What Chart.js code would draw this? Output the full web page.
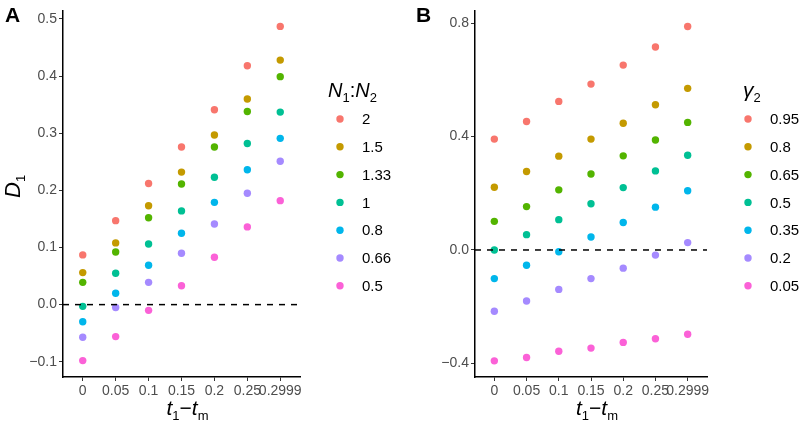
<!DOCTYPE html>
<html>
<head>
<meta charset="utf-8">
<script src="https://cdn.jsdelivr.net/npm/chart.js@4.4.1/dist/chart.umd.min.js"></script>
<style>
  body { margin: 0; background: #fff; }
  .panel { position: absolute; top: 0; width: 400px; height: 425px; }
</style>
</head>
<body>
<div class="panel" style="left:0"><canvas id="chartA" width="400" height="425"></canvas></div>
<div class="panel" style="left:400px"><canvas id="chartB" width="400" height="425"></canvas></div>
<script>
// x categories (t1 - tm)
const tLabels = ['0', '0.05', '0.1', '0.15', '0.2', '0.25', '0.2999'];
const hueColors = ['#F8766D', '#C49A00', '#53B400', '#00C094', '#00B6EB', '#A58AFF', '#FB61D7'];

// panel A: D1 by N1:N2
const ratioLabels = ['2', '1.5', '1.33', '1', '0.8', '0.66', '0.5'];
const ratio2 = [0.087, 0.147, 0.212, 0.276, 0.341, 0.418, 0.487];
const ratio15 = [0.056, 0.108, 0.173, 0.232, 0.297, 0.360, 0.428];
const ratio133 = [0.039, 0.092, 0.152, 0.211, 0.276, 0.338, 0.399];
const ratio1 = [-0.003, 0.055, 0.106, 0.164, 0.223, 0.282, 0.337];
const ratio08 = [-0.030, 0.020, 0.069, 0.125, 0.179, 0.236, 0.291];
const ratio066 = [-0.057, -0.005, 0.039, 0.090, 0.141, 0.195, 0.251];
const ratio05 = [-0.098, -0.056, -0.010, 0.033, 0.083, 0.136, 0.182];
const yTicksA = [-0.1, 0, 0.1, 0.2, 0.3, 0.4, 0.5];

// panel B: by gamma2
const gammaLabels = ['0.95', '0.8', '0.65', '0.5', '0.35', '0.2', '0.05'];
const gamma095 = [0.391, 0.453, 0.524, 0.585, 0.652, 0.716, 0.788];
const gamma08 = [0.221, 0.277, 0.331, 0.391, 0.447, 0.512, 0.570];
const gamma065 = [0.101, 0.153, 0.212, 0.268, 0.332, 0.388, 0.450];
const gamma05 = [0.000, 0.054, 0.107, 0.163, 0.220, 0.279, 0.334];
const gamma035 = [-0.101, -0.054, -0.006, 0.046, 0.097, 0.151, 0.209];
const gamma02 = [-0.216, -0.180, -0.139, -0.101, -0.064, -0.018, 0.026];
const gamma005 = [-0.391, -0.379, -0.357, -0.346, -0.326, -0.313, -0.297];
const yTicksB = [-0.4, 0, 0.4, 0.8];

const FONT = '"Liberation Sans", Arial, sans-serif';

function fmt(v, d) {
    let s = Math.abs(v).toFixed(d);
    return v < -1e-9 ? '\u2212' + s : s;
}

// draws text pieces [text, size, italic, dy] one after the other
function drawParts(ctx, parts, x, y, align) {
    let w = 0;
    parts.forEach(p => {
        ctx.font = (p[2] ? 'italic ' : '') + p[1] + 'px ' + FONT;
        w += ctx.measureText(p[0]).width;
    });
    let cx = align === 'center' ? x - w / 2 : x;
    ctx.textAlign = 'left';
    ctx.textBaseline = 'alphabetic';
    parts.forEach(p => {
        ctx.font = (p[2] ? 'italic ' : '') + p[1] + 'px ' + FONT;
        ctx.fillText(p[0], cx, y + (p[3] || 0));
        cx += ctx.measureText(p[0]).width;
    });
}

const decorPlugin = {
    id: 'decor',
    afterDatasetsDraw(chart, args, opts) {
        let ctx = chart.ctx;
        let area = chart.chartArea;
        let y0 = chart.scales.y.getPixelForValue(0);
        ctx.save();
        ctx.strokeStyle = '#000';
        ctx.lineWidth = 1.5;
        ctx.setLineDash([6, 6]);
        ctx.beginPath();
        ctx.moveTo(area.left, y0);
        ctx.lineTo(area.right, y0);
        ctx.stroke();
        ctx.restore();
    },
    afterDraw(chart, args, opts) {
        let ctx = chart.ctx;
        let area = chart.chartArea;
        ctx.save();
        ctx.fillStyle = '#000';

        // panel letter
        ctx.font = 'bold 21px ' + FONT;
        ctx.textAlign = 'left';
        ctx.fillText(opts.letter, opts.letterX, 22);

        // x axis title t1 - tm
        drawParts(ctx, [['t', 21, true], ['1', 13, false, 5], ['\u2212', 21, false], ['t', 21, true], ['m', 13, false, 5]],
            (area.left + area.right) / 2 + 6, 415, 'center');

        // y axis title
        if (opts.yTitle) {
            ctx.save();
            ctx.translate(20, 198);
            ctx.rotate(-Math.PI / 2);
            drawParts(ctx, opts.yTitle, 0, 0, 'left');
            ctx.restore();
        }

        // legend
        drawParts(ctx, opts.legendTitle, opts.legendTitleX, 97, 'left');
        chart.data.datasets.forEach((ds, i) => {
            let y = 119 + i * 27.8;
            ctx.fillStyle = ds.backgroundColor;
            ctx.beginPath();
            ctx.arc(opts.legendX, y, 3.7, 0, Math.PI * 2);
            ctx.fill();
            ctx.fillStyle = '#000';
            ctx.font = '15px ' + FONT;
            ctx.textBaseline = 'middle';
            ctx.fillText(ds.label, opts.legendX + 22, y + 1);
            ctx.textBaseline = 'alphabetic';
        });
        ctx.restore();
    }
};

function makePanel(id, labels, series, yMin, yMax, yTicks, yDigits, axisWidth, padRight, decor) {
    let ctx = document.getElementById(id).getContext('2d');
    return new Chart(ctx, {
        type: 'scatter',
        data: {
            datasets: series.map((vals, i) => ({
                label: labels[i],
                data: vals.map((v, j) => ({ x: j, y: v })),
                backgroundColor: hueColors[i],
                borderWidth: 0,
                pointRadius: 3.7,
                pointHoverRadius: 3.7
            }))
        },
        options: {
            responsive: false,
            animation: false,
            layout: { padding: { left: 0, right: padRight, top: 2, bottom: 0 } },
            plugins: {
                legend: { display: false },
                tooltip: { enabled: false },
                decor: decor
            },
            scales: {
                x: {
                    type: 'linear',
                    min: -0.6,
                    max: 6.6,
                    afterBuildTicks: s => { s.ticks = tLabels.map((t, i) => ({ value: i })); },
                    afterFit: s => { s.height = 48; },
                    ticks: {
                        callback: v => tLabels[v],
                        font: { family: FONT, size: 14 },
                        color: '#4D4D4D',
                        padding: 2,
                        maxRotation: 0,
                        autoSkip: false
                    },
                    grid: { drawOnChartArea: false, tickLength: 4, color: '#333', lineWidth: 1 },
                    border: { color: '#000', width: 1.5 }
                },
                y: {
                    min: yMin,
                    max: yMax,
                    afterBuildTicks: s => { s.ticks = yTicks.map(v => ({ value: v })); },
                    afterFit: s => { s.width = axisWidth; },
                    ticks: {
                        callback: v => fmt(v, yDigits),
                        font: { family: FONT, size: 14 },
                        color: '#4D4D4D',
                        padding: 2
                    },
                    grid: { drawOnChartArea: false, tickLength: 4, color: '#333', lineWidth: 1 },
                    border: { color: '#000', width: 1.5 }
                }
            }
        },
        plugins: [decorPlugin]
    });
}

makePanel('chartA', ratioLabels,
    [ratio2, ratio15, ratio133, ratio1, ratio08, ratio066, ratio05],
    -0.1267, 0.515, yTicksA, 1, 63, 100,
    {
        letter: 'A', letterX: 5,
        yTitle: [['D', 22, true], ['1', 13, false, 5]],
        legendTitle: [['N', 20, true], ['1', 13, false, 5], [':', 20, false], ['N', 20, true], ['2', 13, false, 5]],
        legendTitleX: 328,
        legendX: 340
    });

makePanel('chartB', gammaLabels,
    [gamma095, gamma08, gamma065, gamma05, gamma035, gamma02, gamma005],
    -0.448, 0.845, yTicksB, 1, 75, 93,
    {
        letter: 'B', letterX: 16,
        yTitle: null,
        legendTitle: [['\u03B3', 21, true], ['2', 13, false, 5]],
        legendTitleX: 343,
        legendX: 348
    });
</script>
</body>
</html>
